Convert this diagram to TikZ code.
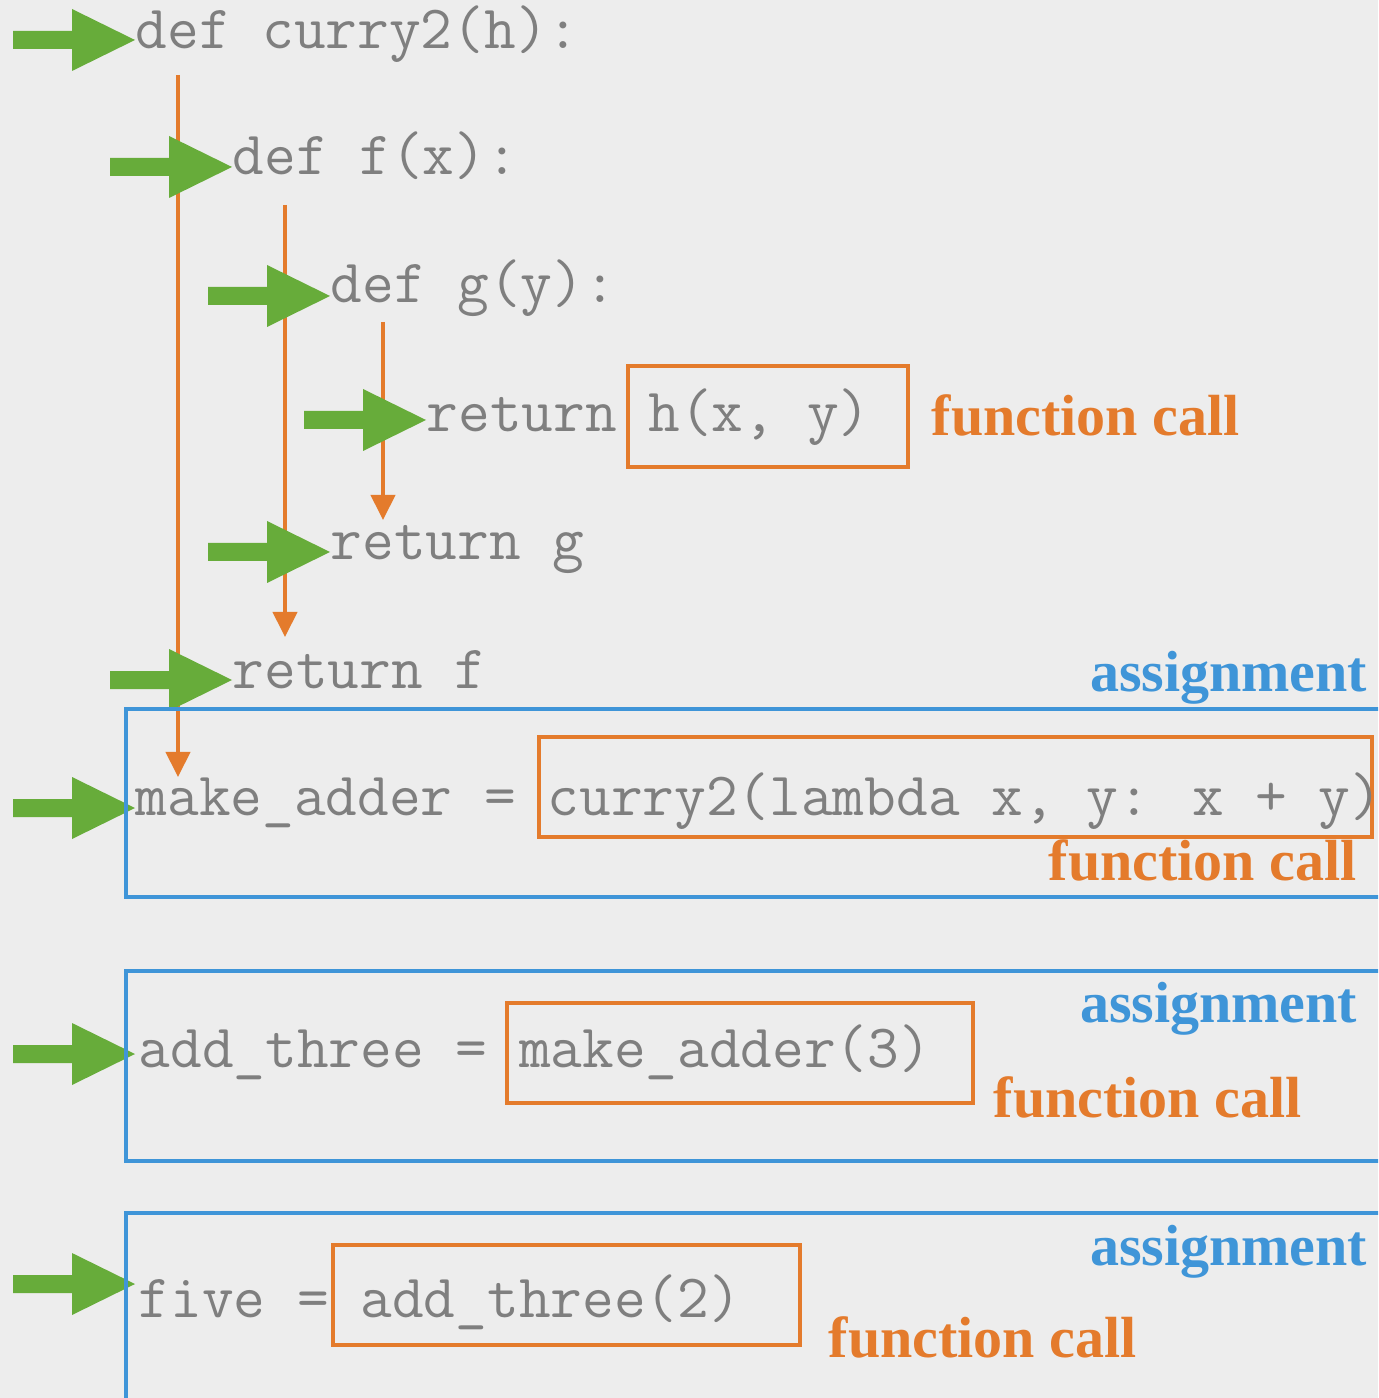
\documentclass[tikz,border=0pt]{standalone}
\usepackage{fontspec}
\usetikzlibrary{arrows.meta}
\newfontfamily\labelfont{Liberation Serif}
\definecolor{paper}{HTML}{EDEDED}
\definecolor{codegray}{HTML}{7F7F7F}
\definecolor{flowgreen}{HTML}{67AC3A}
\definecolor{flowor}{HTML}{E47B2C}
\definecolor{assignblue}{HTML}{3F95D8}
\tikzset{
  code/.style={anchor=base west, inner sep=0pt, text=codegray, font=\ttfamily\fontsize{17.5}{20}\selectfont},
  tag/.style={inner sep=0pt, font=\labelfont\bfseries\fontsize{16.5}{20}\selectfont},
  calltag/.style={tag, anchor=base west, text=flowor},
  assigntag/.style={tag, anchor=base east, text=assignblue},
  callbox/.style={draw=flowor, line width=1.15pt},
  assignbox/.style={draw=assignblue, line width=1.15pt},
  flow/.style={draw=flowor, line width=1.15pt, -{Triangle[length=0.25cm,width=0.24cm]}},
  greenarrow/.pic={\fill[flowgreen] (-122,-9) -- (-63,-9) -- (-63,-31) -- (0,0) -- (-63,31) -- (-63,9) -- (-122,9) -- cycle;}
}
\begin{document}
\begin{tikzpicture}[x=0.01cm, y=-0.01cm]
        \useasboundingbox (0,0) rectangle (1378,1398);
        \clip (0,0) rectangle (1378,1398);
        \fill[paper] (0,0) rectangle (1378,1398);

        % scope lines
        \coordinate (fA) at (178,75);
        \coordinate (tA) at (178,777);
        \coordinate (fB) at (285,205);
        \coordinate (tB) at (285,637);
        \coordinate (fC) at (383,322);
        \coordinate (tC) at (383,520);
        \draw[flow] (fA) -- (tA);
        \draw[flow] (fB) -- (tB);
        \draw[flow] (fC) -- (tC);

        % execution pointers
        \pic at (135,40) {greenarrow};
        \pic at (232,167) {greenarrow};
        \pic at (330,296) {greenarrow};
        \pic at (426,420) {greenarrow};
        \pic at (330,552) {greenarrow};
        \pic at (232,680) {greenarrow};
        \pic at (135,808) {greenarrow};
        \pic at (135,1054) {greenarrow};
        \pic at (135,1284) {greenarrow};

        % assignments
        \draw[assignbox] (126,709) rectangle (1420,897);
        \draw[assignbox] (126,971) rectangle (1420,1161);
        \draw[assignbox] (126,1213) rectangle (1420,1440);

        % calls
        \draw[callbox] (628,366) rectangle (908,467);
        \draw[callbox] (539,737) rectangle (1372,837);
        \draw[callbox] (507,1003) rectangle (973,1103);
        \draw[callbox] (333,1245) rectangle (800,1345);

        \node[code] (curry) at (135,49) {def curry2(h):};
        \node[code] (deff) at (232,175) {def f(x):};
        \node[code] (defg) at (330,303) {def g(y):};
        \node[code] (reth) at (426,432) {return h(x, y)};
        \node[code] (retg) at (330,560) {return g};
        \node[code] (retf) at (232,688) {return f};
        \node[code] (adder) at (135,815) {make\_adder = curry2(lambda x, y: x + y)};
        \node[code] (three) at (138,1067) {add\_three = make\_adder(3)};
        \node[code] (five) at (138,1317) {five = add\_three(2)};

        \node[calltag] (c1) at (931,436) {function call};
        \node[calltag] (c2) at (1048,880) {function call};
        \node[calltag] (c3) at (993,1117) {function call};
        \node[calltag] (c4) at (828,1357) {function call};

        \node[assigntag] (a1) at (1368,691) {assignment};
        \node[assigntag] (a2) at (1358,1022) {assignment};
        \node[assigntag] (a3) at (1368,1265) {assignment};
    \end{tikzpicture}
\end{document}
